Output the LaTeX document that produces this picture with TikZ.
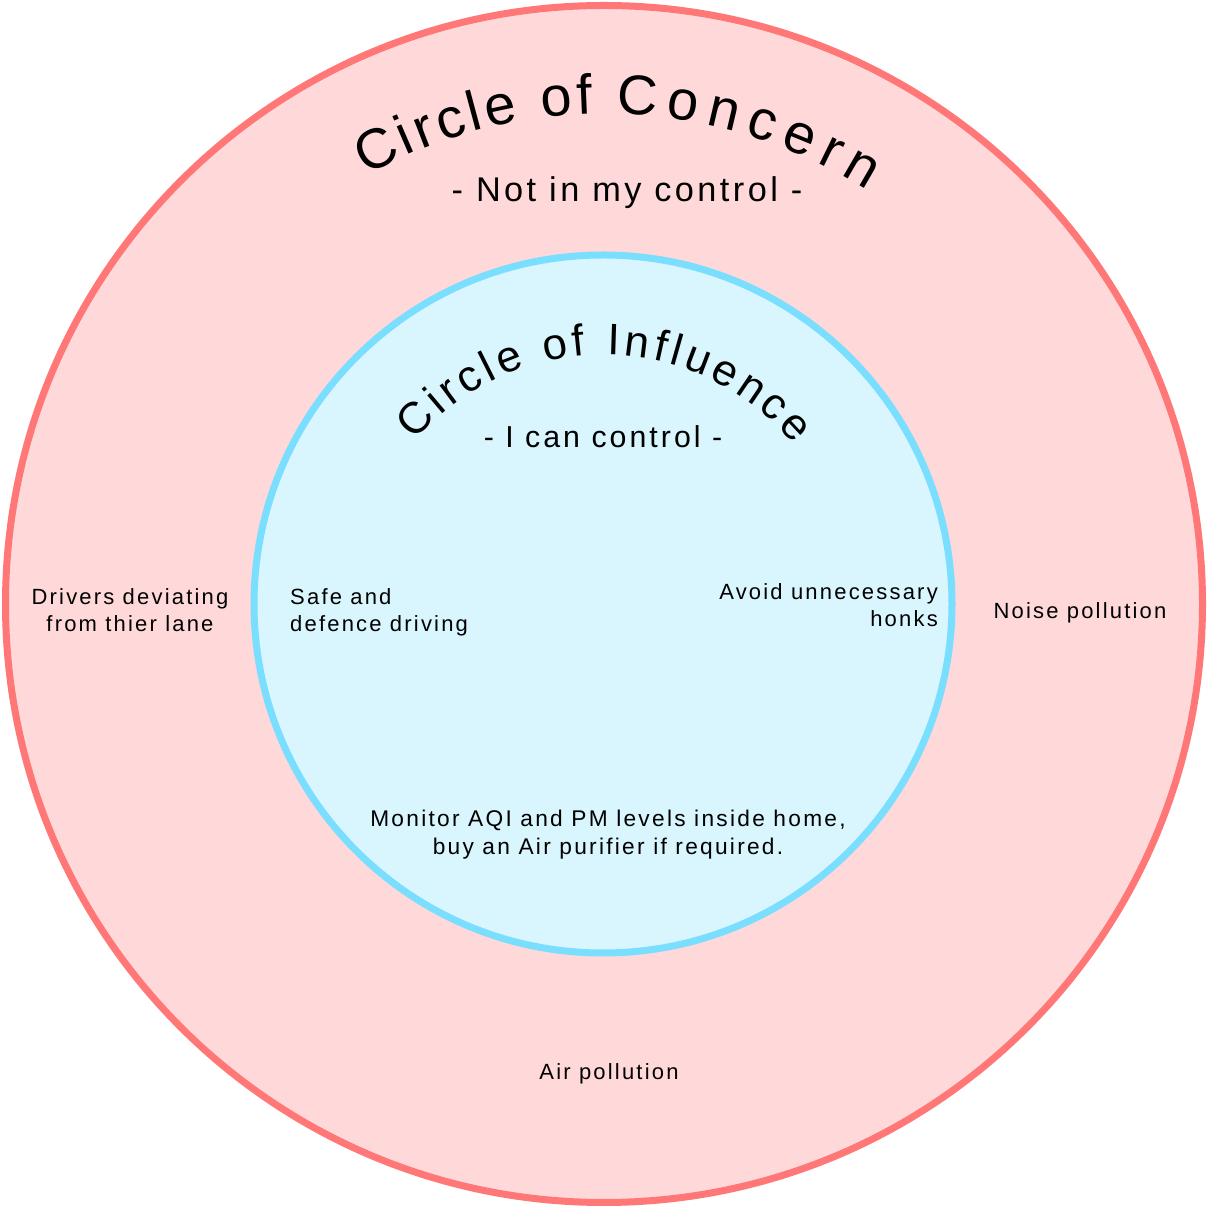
\documentclass[tikz,border=0pt]{standalone}
\usepackage{fontspec}
\setmainfont{Liberation Sans}[LetterSpace=10]
\newfontfamily\arcfont{Liberation Sans}
\usepackage{tikz}
\usetikzlibrary{positioning, decorations.text}
\definecolor{concernfill}{HTML}{FFD9D9}
\definecolor{concernline}{HTML}{FF7777}
\definecolor{influencefill}{HTML}{D9F5FD}
\definecolor{influenceline}{HTML}{7ADEFF}

\begin{document}
\begin{tikzpicture}[x=1pt, y=1pt,
    smalltxt/.style={text=black, inner sep=0pt, font=\fontsize{22}{27}\selectfont},
    ring/.style={circle, line width=7pt, inner sep=0pt}]
    \useasboundingbox (0,0) rectangle (1208,1208);
    \node (concern) [ring, draw=concernline, fill=concernfill, minimum size=1197pt] at (604,604) {};%draws outer circle
    \node (influence) [ring, draw=influenceline, fill=influencefill, minimum size=698pt] at (603,604) {};%draws inner circle
    % =============== titles along the arcs ====================
    \path[decorate, decoration={text along path,
        text={|\arcfont\fontsize{56}{60}\selectfont\kern4pt|Circle of}}]
        (concern.center) ++(119.5:490) arc[start angle=119.5, end angle=60, radius=490];%outer title, first part
    \path[decorate, decoration={text along path,
        text={|\arcfont\fontsize{56}{60}\selectfont\kern9pt|Concern}}]
        (concern.center) ++(89.6:490) arc[start angle=89.6, end angle=30, radius=490];%outer title, second part
    \node (notctrl) [text=black, inner sep=0pt, anchor=base, font=\fontsize{34.3}{40}\selectfont] at (627,1006) {- Not in my control -};%outer subtitle
    \path[decorate, decoration={text along path, text align=center,
        text={|\arcfont\fontsize{44}{50}\selectfont\kern4.4pt|Circle of Influence}}]
        (influence.center) ++(180:249) arc[start angle=180, end angle=0, radius=249];%inner title
    \node (canctrl) [text=black, inner sep=0pt, anchor=base, font=\fontsize{30.3}{36}\selectfont] at (603,760) {- I can control -};%inner subtitle
    % =============== items ====================
    \node (drivers) [smalltxt, align=center] at (130,598) {Drivers deviating\\from thier lane};%outside, left
    \node (safe) [smalltxt, align=left, anchor=west] at (290,596) {Safe and\\defence driving};%inside, left
    \node (honks) [smalltxt, align=right, anchor=east] at (938,603) {Avoid unnecessary\\honks};%inside, right
    \node (noise) [smalltxt] at (1080,595) {Noise pollution};%outside, right
    \node (aqi) [smalltxt, align=center, font=\fontsize{22.7}{28}\selectfont] at (608,373.5) {Monitor AQI and PM levels inside home,\\buy an Air purifier if required.};%inside, bottom
    \node (air) [smalltxt] at (609,134) {Air pollution};%outside, bottom
\end{tikzpicture}
\end{document}
